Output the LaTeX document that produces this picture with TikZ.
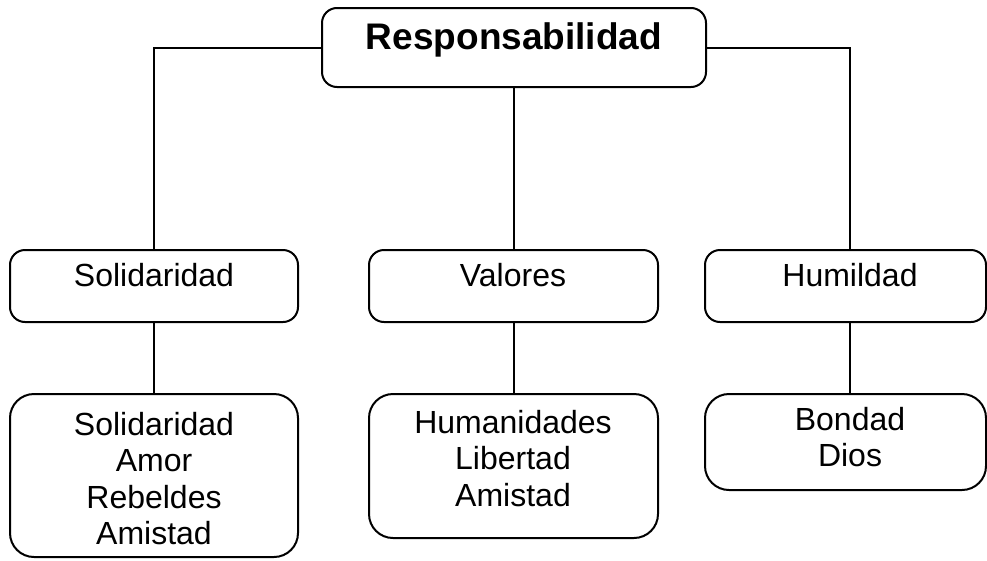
\documentclass[tikz,border=0pt]{standalone}
\usepackage{fontspec}
\setmainfont{Liberation Sans}
\begin{document}
\begin{tikzpicture}[x=1pt,y=-1pt,
  box/.style={draw, line width=2pt, rounded corners=15pt, inner sep=0pt},
  bigbox/.style={box, rounded corners=24pt},
  lbl/.style={inner sep=0pt, align=center, anchor=base, font=\fontsize{32}{36.5}\selectfont},
  toplbl/.style={inner sep=0pt, anchor=base, font=\fontsize{37}{44}\selectfont\bfseries},
  conn/.style={line width=2pt}]
\useasboundingbox (0,0) rectangle (987,560);
% boxes
\node[box, minimum width=384pt, minimum height=79pt] (top) at (514,47.5) {};
\node[box, minimum width=288pt, minimum height=72pt] (sol) at (154,286) {};
\node[box, minimum width=289pt, minimum height=72pt] (val) at (513.5,286) {};
\node[box, minimum width=281pt, minimum height=72pt] (hum) at (845.5,286) {};
\node[bigbox, minimum width=288pt, minimum height=163pt] (bsol) at (154,475.5) {};
\node[bigbox, minimum width=289pt, minimum height=144pt] (bval) at (513.5,466) {};
\node[bigbox, minimum width=281pt, minimum height=96pt] (bhum) at (845.5,442) {};
% labels (anchor base = baseline of the last line)
\node[toplbl] (ttop) at (514,49.5) {Responsabilidad};
\node[lbl] (tsol) at (154,286.5) {Solidaridad};
\node[lbl] (tval) at (513,286.5) {Valores};
\node[lbl] (thum) at (850,286.5) {Humildad};
\node[lbl] (tbsol) at (154,544.5) {Solidaridad\\Amor\\Rebeldes\\Amistad};
\node[lbl] (tbval) at (513,506) {Humanidades\\Libertad\\Amistad};
\node[lbl] (tbhum) at (850,466.5) {Bondad\\Dios};
% connectors
\draw[conn] (top.west) -| (sol.north);
\draw[conn] (top.east) -| (thum |- hum.north);
\draw[conn] (top.south) -- (top.south |- val.north);
\draw[conn] (sol.south) -- (bsol.north);
\draw[conn] (thum |- hum.south) -- (thum |- bhum.north);
\draw[conn] (val.south) -- (bval.north);
\end{tikzpicture}
\end{document}
